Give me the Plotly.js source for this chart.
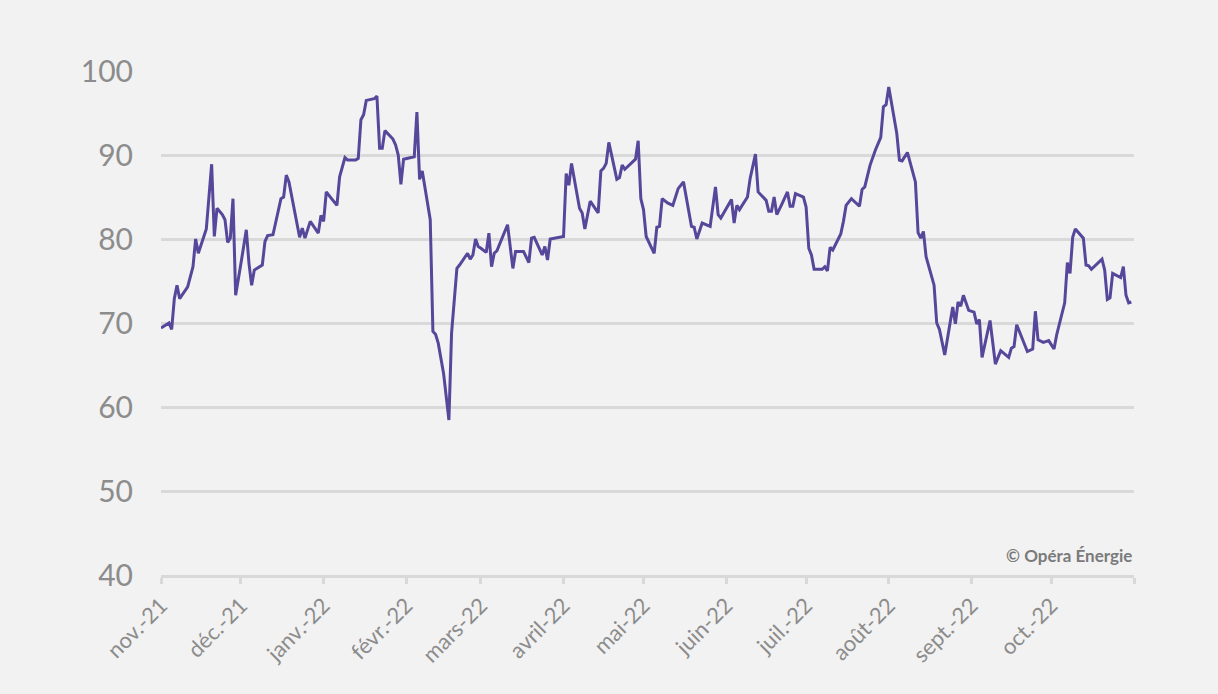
<!DOCTYPE html>
<html>
<head>
<meta charset="utf-8">
<script src="https://cdn.plot.ly/plotly-3.0.1.min.js"></script>
<style>
html,body{margin:0;padding:0;background:#f2f2f2;}
#chart{width:1218px;height:694px;}
</style>
</head>
<body>
<div id="chart"></div>
<script>
const dates = [
"2021-11-01","2021-11-04","2021-11-05","2021-11-06","2021-11-07","2021-11-08","2021-11-11","2021-11-12","2021-11-13","2021-11-14","2021-11-15","2021-11-18","2021-11-20","2021-11-21","2021-11-22","2021-11-24","2021-11-25","2021-11-26","2021-11-27","2021-11-28","2021-11-29",
"2021-12-01","2021-12-03","2021-12-04","2021-12-05","2021-12-06","2021-12-09","2021-12-10","2021-12-11","2021-12-13","2021-12-16","2021-12-17","2021-12-18","2021-12-19","2021-12-23","2021-12-24","2021-12-25","2021-12-27","2021-12-30","2021-12-31",
"2022-01-01","2022-01-02","2022-01-06","2022-01-07","2022-01-09","2022-01-10","2022-01-13","2022-01-14","2022-01-15","2022-01-16","2022-01-17","2022-01-20","2022-01-21","2022-01-22","2022-01-23","2022-01-24","2022-01-27","2022-01-28","2022-01-29","2022-01-30","2022-01-31",
"2022-02-04","2022-02-05","2022-02-06","2022-02-07","2022-02-10","2022-02-11","2022-02-12","2022-02-13","2022-02-15","2022-02-17","2022-02-18","2022-02-20","2022-02-21","2022-02-24","2022-02-25","2022-02-26","2022-02-27","2022-02-28",
"2022-03-01","2022-03-03","2022-03-04","2022-03-05","2022-03-06","2022-03-07","2022-03-11","2022-03-13","2022-03-14","2022-03-17","2022-03-19","2022-03-20","2022-03-21","2022-03-24","2022-03-25","2022-03-26","2022-03-27",
"2022-04-01","2022-04-02","2022-04-03","2022-04-04","2022-04-07","2022-04-08","2022-04-09","2022-04-11","2022-04-14","2022-04-15","2022-04-16","2022-04-17","2022-04-18","2022-04-21","2022-04-22","2022-04-23","2022-04-24","2022-04-28","2022-04-29","2022-04-30",
"2022-05-01","2022-05-02","2022-05-05","2022-05-06","2022-05-07","2022-05-08","2022-05-10","2022-05-12","2022-05-14","2022-05-16","2022-05-19","2022-05-20","2022-05-21","2022-05-23","2022-05-26","2022-05-28","2022-05-29","2022-05-30",
"2022-06-03","2022-06-04","2022-06-05","2022-06-06","2022-06-09","2022-06-10","2022-06-12","2022-06-13","2022-06-16","2022-06-17","2022-06-18","2022-06-19","2022-06-20","2022-06-22","2022-06-24","2022-06-25","2022-06-26","2022-06-27","2022-06-30",
"2022-07-01","2022-07-02","2022-07-03","2022-07-04","2022-07-07","2022-07-08","2022-07-09","2022-07-10","2022-07-11","2022-07-14","2022-07-15","2022-07-16","2022-07-18","2022-07-21","2022-07-22","2022-07-23","2022-07-25","2022-07-27","2022-07-29","2022-07-30","2022-07-31",
"2022-08-01","2022-08-04","2022-08-05","2022-08-06","2022-08-08","2022-08-11","2022-08-12","2022-08-13","2022-08-14","2022-08-15","2022-08-18","2022-08-19","2022-08-20","2022-08-22","2022-08-25","2022-08-26","2022-08-27","2022-08-28","2022-08-29","2022-08-31",
"2022-09-02","2022-09-03","2022-09-04","2022-09-05","2022-09-08","2022-09-10","2022-09-12","2022-09-15","2022-09-16","2022-09-17","2022-09-18","2022-09-22","2022-09-24","2022-09-25","2022-09-26","2022-09-28","2022-09-30",
"2022-10-02","2022-10-03","2022-10-06","2022-10-07","2022-10-08","2022-10-09","2022-10-10","2022-10-13","2022-10-14","2022-10-15","2022-10-16","2022-10-20","2022-10-21","2022-10-22","2022-10-23","2022-10-24","2022-10-27","2022-10-28","2022-10-29","2022-10-30","2022-10-31"
];
const values = [
69.4,70.0,69.25,72.9,74.5,72.9,74.3,75.5,76.7,80.0,78.3,81.2,88.9,80.3,83.65,82.9,82.3,79.6,80.1,84.8,73.3,
77.1,81.1,77.1,74.5,76.3,76.9,79.7,80.4,80.5,84.8,85.0,87.6,86.8,80.2,81.3,80.1,82.1,80.7,82.8,
82.1,85.6,84.0,87.4,89.7,89.4,89.4,89.6,94.2,94.8,96.5,96.7,97.0,90.8,90.8,92.9,91.9,91.2,90.0,86.5,89.5,
89.8,95.1,87.1,88.1,82.3,69.0,68.65,67.6,64.0,58.45,68.8,76.5,76.9,78.3,77.6,78.1,80.0,79.1,
78.9,78.4,80.7,76.7,78.3,78.6,81.7,76.5,78.5,78.5,77.2,80.1,80.2,78.1,79.1,77.5,80.0,
80.3,87.8,86.4,89.0,83.65,83.1,81.2,84.5,83.1,88.1,88.4,89.0,91.5,87.1,87.3,88.8,88.3,89.5,91.7,84.8,
83.5,80.3,78.3,81.4,81.5,84.8,84.3,84.0,86.0,86.8,81.5,81.4,80.0,81.9,81.5,86.2,82.9,82.5,
84.7,81.9,84.0,83.5,85.0,87.2,90.1,85.6,84.6,83.3,83.3,85.0,82.9,84.2,85.6,83.9,83.9,85.4,85.0,
83.8,78.9,78.1,76.4,76.4,76.7,76.2,79.0,78.7,80.6,82.1,84.0,84.8,83.9,85.9,86.2,88.8,90.6,92.1,95.75,96.0,
98.1,92.6,89.4,89.3,90.3,86.8,80.75,80.1,80.9,77.9,74.5,70.0,69.25,66.2,71.9,69.9,72.5,72.0,73.3,71.5,
71.3,69.9,70.4,65.9,70.3,65.1,66.7,65.9,67.0,67.2,69.8,66.6,66.9,71.4,68.0,67.7,67.9,
66.9,68.6,72.4,77.2,75.9,80.2,81.2,80.1,76.9,76.8,76.4,77.6,76.3,72.8,73.0,75.9,75.4,76.7,73.3,72.4,72.5
];
const tickDates = ["2021-11-01","2021-12-01","2022-01-01","2022-02-01","2022-03-01","2022-04-01","2022-05-01","2022-06-01","2022-07-01","2022-08-01","2022-09-01","2022-10-01","2022-11-01"];
const tickLabels = ["nov.-21","déc.-21","janv.-22","févr.-22","mars-22","avril-22","mai-22","juin-22","juil.-22","août-22","sept.-22","oct.-22",""];
const yTicks = [40,50,60,70,80,90,100];
const sourceText = "© Opéra Énergie";

const trace = {
  x: dates, y: values, type: 'scatter', mode: 'lines',
  line: {color: '#56479a', width: 3}, hoverinfo: 'x+y'
};
const layout = {
  width: 1218, height: 694,
  paper_bgcolor: '#f2f2f2', plot_bgcolor: '#f2f2f2',
  margin: {l: 161, r: 84, t: 71, b: 119},
  showlegend: false,
  font: {family: 'Lato, "Noto Sans", sans-serif', color: '#8c8c8c'},
  xaxis: {
    type: 'date', range: ['2021-11-01', '2022-11-01'],
    tickmode: 'array', tickvals: tickDates, ticktext: tickLabels,
    tickangle: -45, tickfont: {size: 22, color: '#8c8c8c'},
    showgrid: false, zeroline: false,
    showline: true, linecolor: '#d9d9d9', linewidth: 3,
    ticks: 'outside', ticklen: 6, tickwidth: 3, tickcolor: '#d9d9d9'
  },
  yaxis: {
    range: [40, 100], tickmode: 'array', tickvals: yTicks,
    tickfont: {size: 30, color: '#8c8c8c'},
    showgrid: true, gridcolor: '#d9d9d9', gridwidth: 3,
    zeroline: false, showline: false, ticks: '', ticklabelstandoff: 27
  },
  annotations: [{
    xref: 'paper', yref: 'paper', x: 1, y: 0.038, xanchor: 'right', yanchor: 'middle',
    text: '<b>' + sourceText + '</b>', showarrow: false,
    font: {size: 17, color: '#7a7a7a', family: 'Lato, "Noto Sans", sans-serif'}
  }]
};
Plotly.newPlot('chart', [trace], layout, {displayModeBar: false, staticPlot: true});
</script>
</body>
</html>
